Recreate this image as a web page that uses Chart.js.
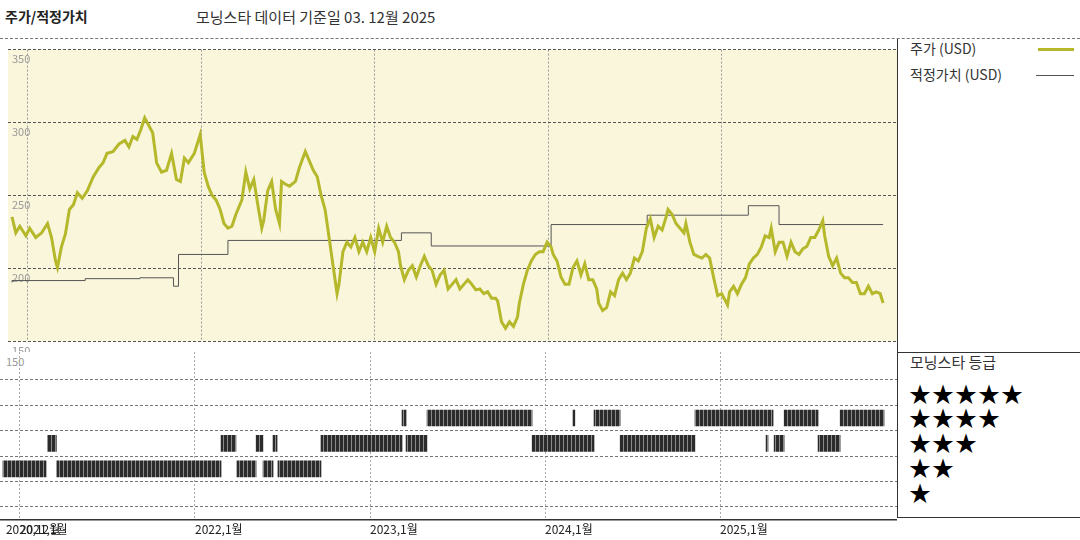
<!DOCTYPE html>
<html>
<head>
<meta charset="utf-8">
<script src="https://cdn.jsdelivr.net/npm/chart.js@4"></script>
<style>
  body { margin: 0; background: #fff; font-family: "Noto Sans CJK KR", sans-serif; }
  #wrap { position: relative; width: 1080px; height: 540px; overflow: hidden; }
  .t { position: absolute; white-space: nowrap; line-height: 1; }
  #top-box { position: absolute; left: 0; top: 39px; width: 897px; height: 313px; }
  #bot-box { position: absolute; left: 0; top: 352px; width: 897px; height: 188px; }
  .star { position: absolute; left: 909px; font-size: 22px; color: #000; letter-spacing: 1px; line-height: 1; }
</style>
</head>
<body>
<div id="wrap">
  <div class="t" style="left:5px;top:9px;font-size:14px;font-weight:bold;color:#222;">주가/적정가치</div>
  <div class="t" style="left:196px;top:9px;font-size:15px;color:#333;">모닝스타 데이터 기준일 03. 12월 2025</div>
  <div style="position:absolute;left:0;top:38px;width:1080px;border-top:1px dashed #777;"></div>
  <div style="position:absolute;left:897px;top:39px;height:478px;border-left:1px solid #333;"></div>
  <div style="position:absolute;left:897px;top:352px;width:183px;border-top:1px solid #333;"></div>
  <div style="position:absolute;left:897px;top:517px;width:183px;border-top:1px solid #333;"></div>
  <div class="t" style="left:910px;top:41px;font-size:14px;color:#333;">주가 (USD)</div>
  <div style="position:absolute;left:1038px;top:48px;width:36px;border-top:3px solid #b4b82a;"></div>
  <div class="t" style="left:910px;top:67px;font-size:14px;color:#333;">적정가치 (USD)</div>
  <div style="position:absolute;left:1036px;top:75px;width:38px;border-top:1px solid #555;"></div>
  <div class="t" style="left:910px;top:354px;font-size:15px;color:#333;">모닝스타 등급</div>
  <div class="star" style="top:381px;">★★★★★</div>
  <div class="star" style="top:405px;">★★★★</div>
  <div class="star" style="top:430px;">★★★</div>
  <div class="star" style="top:455px;">★★</div>
  <div class="star" style="top:480px;">★</div>
  <div class="t" style="left:6px;top:356px;font-size:11px;color:#999;">150</div>
  <div id="top-box"><canvas id="price-chart"></canvas></div>
  <div id="bot-box"><canvas id="rating-chart"></canvas></div>
</div>
<script>
// time axis is in fractional years
var priceDates = [2020.909,2020.931,2020.954,2020.989,2021.011,2021.046,2021.080,2021.114,2021.137,2021.160,2021.171,2021.194,2021.217,2021.240,2021.263,2021.286,2021.314,2021.343,2021.377,2021.411,2021.434,2021.457,2021.491,2021.526,2021.560,2021.583,2021.606,2021.629,2021.651,2021.674,2021.697,2021.720,2021.743,2021.771,2021.800,2021.829,2021.857,2021.880,2021.903,2021.926,2021.960,2021.994,
  2022.017,2022.040,2022.063,2022.086,2022.109,2022.131,2022.154,2022.177,2022.200,2022.234,2022.257,2022.280,2022.303,2022.326,2022.349,2022.360,2022.383,2022.406,2022.429,2022.451,2022.463,2022.486,2022.509,2022.543,2022.566,2022.600,2022.623,2022.646,2022.669,2022.691,2022.714,2022.737,2022.760,2022.783,2022.794,2022.817,2022.840,2022.863,2022.886,2022.909,2022.931,2022.954,2022.977,
  2023.000,2023.023,2023.046,2023.069,2023.091,2023.114,2023.137,2023.149,2023.171,2023.194,2023.217,2023.240,2023.263,2023.286,2023.309,2023.331,2023.354,2023.377,2023.400,2023.423,2023.446,2023.469,2023.491,2023.514,2023.537,2023.560,2023.583,2023.606,2023.629,2023.651,2023.674,2023.697,2023.709,2023.731,2023.754,2023.777,2023.800,2023.823,2023.834,2023.857,2023.880,2023.903,2023.926,2023.949,2023.971,2023.994,
  2024.017,2024.029,2024.051,2024.074,2024.097,2024.120,2024.143,2024.166,2024.189,2024.211,2024.234,2024.257,2024.280,2024.291,2024.314,2024.337,2024.360,2024.383,2024.406,2024.429,2024.451,2024.474,2024.497,2024.520,2024.543,2024.566,2024.589,2024.611,2024.634,2024.657,2024.680,2024.691,2024.714,2024.737,2024.760,2024.783,2024.794,2024.817,2024.840,2024.863,2024.886,2024.909,2024.931,2024.954,2024.977,
  2025.000,2025.023,2025.034,2025.046,2025.069,2025.091,2025.114,2025.137,2025.160,2025.183,2025.206,2025.229,2025.251,2025.274,2025.286,2025.309,2025.331,2025.354,2025.377,2025.400,2025.423,2025.446,2025.469,2025.491,2025.514,2025.537,2025.560,2025.583,2025.594,2025.617,2025.640,2025.663,2025.686,2025.709,2025.731,2025.754,2025.777,2025.800,2025.823,2025.846,2025.869,2025.891,2025.914,2025.931];
var priceValues = [235.3,224.4,228.9,222.4,227.6,221.2,224.4,230.8,221.2,205.1,200.6,214.8,223.7,240.4,243.6,251.9,248.1,253.2,262.8,269.2,272.4,278.9,280.1,285.3,287.8,283.3,290.4,288.5,294.9,303.2,298.1,293.0,272.4,266.0,267.3,278.9,260.9,259.6,275.6,272.4,278.9,291.7,
  266.0,256.4,250.0,246.8,240.4,230.8,227.6,228.9,237.2,246.8,266.0,254.5,260.9,243.6,227.6,232.7,253.2,259.6,240.4,230.8,259.6,257.7,256.4,259.6,269.2,280.1,273.7,267.3,262.8,250.0,240.4,221.2,201.9,182.7,189.1,211.5,218.0,214.8,221.2,211.5,218.0,211.5,221.2,
  211.5,227.6,218.0,228.9,221.2,218.0,211.5,201.9,192.3,198.7,201.9,194.2,201.9,208.3,201.9,198.7,189.1,195.5,198.7,185.9,189.1,192.3,185.9,189.1,192.3,189.1,185.3,185.9,182.7,184.0,179.5,179.5,177.6,163.5,159.0,163.5,160.3,166.7,176.3,189.1,198.7,205.1,209.6,211.5,211.5,218.0,
  214.8,209.6,205.1,194.2,189.1,189.1,200.6,205.1,195.5,203.2,192.3,192.3,185.9,176.3,171.2,173.1,184.0,181.4,192.3,196.8,192.3,196.8,207.1,205.1,211.5,227.6,234.0,221.2,228.9,226.3,235.3,240.4,237.2,230.8,227.6,224.4,230.8,218.0,209.6,208.3,207.1,209.6,207.1,193.6,181.4,
  182.7,177.6,175.0,184.0,187.8,182.7,189.1,193.6,203.2,207.1,209.6,214.8,222.4,221.2,227.6,211.5,218.0,218.0,208.3,218.0,211.5,209.6,213.5,215.0,221.2,221.2,226.3,232.7,222.4,208.3,201.9,207.1,196.8,193.6,193.6,190.4,190.4,182.7,182.7,187.8,182.7,184.0,182.7,176.3];

var fairDates = [2020.909,2021.331,2021.646,2021.840,2021.869,2022.154,2023.154,2023.326,2024.017,2024.571,2025.154,2025.331,2025.583,2025.931];
var fairValues = [190.4,191.7,193.0,193.6,187.8,209.6,219.2,224.4,215.4,230.1,236.5,243.0,230.1,230.1];

// star rating periods: [start, end]
var rating4 = [[2023.183,2023.206],[2023.326,2023.926],[2024.160,2024.171],[2024.280,2024.429],[2024.857,2025.303],[2025.366,2025.560],[2025.686,2025.937]];
var rating3 = [[2021.157,2021.208],[2022.149,2022.234],[2022.349,2022.389],[2022.446,2022.469],[2022.720,2023.183],[2023.206,2023.326],[2023.926,2024.280],[2024.429,2024.857],[2025.263,2025.274],[2025.309,2025.366],[2025.560,2025.686]];
var rating2 = [[2020.903,2021.149],[2021.211,2022.149],[2022.240,2022.349],[2022.389,2022.446],[2022.474,2022.720]];

var yearTicks = [2020.92, 2021, 2022, 2023, 2024, 2025];
var yearLabels = ['2020,12월', '2021,1월', '2022,1월', '2023,1월', '2024,1월', '2025,1월'];
var priceTicks = [150, 200, 250, 300, 350];

var xMin = 2020.886;
var xMax = 2026.011;

function toPoints(xs, ys) {
  var pts = [];
  for (var i = 0; i < xs.length; i++) {
    pts.push({ x: xs[i], y: ys[i] });
  }
  return pts;
}

var plotBg = {
  id: 'plotBg',
  beforeDraw: function (chart, args, opts) {
    var a = chart.chartArea;
    chart.ctx.save();
    chart.ctx.fillStyle = opts.color;
    chart.ctx.fillRect(a.left, a.top, a.right - a.left, a.bottom - a.top);
    chart.ctx.restore();
  }
};

new Chart(document.getElementById('price-chart'), {
  type: 'line',
  data: {
    datasets: [
      {
        label: '주가 (USD)',
        data: toPoints(priceDates, priceValues),
        borderColor: '#b4b82a',
        borderWidth: 3,
        pointRadius: 0,
        tension: 0
      },
      {
        label: '적정가치 (USD)',
        data: toPoints(fairDates, fairValues),
        borderColor: '#555',
        borderWidth: 1,
        pointRadius: 0,
        stepped: 'after'
      }
    ]
  },
  options: {
    responsive: true,
    maintainAspectRatio: false,
    animation: false,
    layout: { padding: 0 },
    plugins: { legend: { display: false }, tooltip: { enabled: false }, plotBg: { color: '#faf6dc' } },
    scales: {
      x: {
        type: 'linear', min: xMin, max: xMax,
        afterBuildTicks: function (s) { s.ticks = yearTicks.slice(1).map(function (v) { return { value: v }; }); },
        ticks: { display: false },
        grid: { color: '#999', drawTicks: false },
        border: { display: false, dash: [2, 2] }
      },
      y: {
        min: 150, max: 350,
        afterBuildTicks: function (s) { s.ticks = priceTicks.map(function (v) { return { value: v }; }); },
        ticks: { mirror: true, padding: 4, labelOffset: 9, color: '#999', font: { family: 'Noto Sans CJK KR', size: 11 } },
        grid: { color: '#555', drawTicks: false },
        border: { display: false, dash: [3, 2] }
      }
    }
  },
  plugins: [plotBg]
});

// stripe pattern for rating bars
var pc = document.createElement('canvas');
pc.width = 4; pc.height = 4;
var pctx = pc.getContext('2d');
pctx.fillStyle = '#2b2b2b'; pctx.fillRect(0, 0, 4, 4);
pctx.fillStyle = '#8a8a8a'; pctx.fillRect(3, 0, 1, 4);
var stripes = pctx.createPattern(pc, 'repeat');

function ratingRows(list, row) {
  return list.map(function (r) { return { y: row, x: r }; });
}

new Chart(document.getElementById('rating-chart'), {
  type: 'bar',
  data: {
    datasets: [
      { data: ratingRows(rating4, 4), backgroundColor: stripes, barThickness: 16, grouped: false },
      { data: ratingRows(rating3, 3), backgroundColor: stripes, barThickness: 16, grouped: false },
      { data: ratingRows(rating2, 2), backgroundColor: stripes, barThickness: 16, grouped: false }
    ]
  },
  options: {
    indexAxis: 'y',
    responsive: true,
    maintainAspectRatio: false,
    animation: false,
    layout: { padding: 0 },
    plugins: { legend: { display: false }, tooltip: { enabled: false } },
    scales: {
      x: {
        type: 'linear', min: xMin, max: xMax,
        afterBuildTicks: function (s) { s.ticks = yearTicks.map(function (v) { return { value: v }; }); },
        ticks: {
          autoSkip: false, maxRotation: 0, align: 'start', padding: 3, color: '#222',
          font: { family: 'Noto Sans CJK KR', size: 12 },
          callback: function (v, i) { return yearLabels[i]; }
        },
        grid: { color: function (c) { return c.index === 0 ? 'rgba(0,0,0,0)' : '#aaa'; }, drawTicks: false },
        border: { color: '#333', width: 1.5, dash: [2, 2] }
      },
      y: {
        type: 'linear', min: 0, max: 6.6, offset: false,
        afterBuildTicks: function (s) { s.ticks = [1, 2, 3, 4, 5].map(function (v) { return { value: v }; }); },
        ticks: { display: false },
        grid: { color: '#777', drawTicks: false },
        border: { display: false, dash: [3, 2] }
      }
    }
  }
});
</script>
</body>
</html>
